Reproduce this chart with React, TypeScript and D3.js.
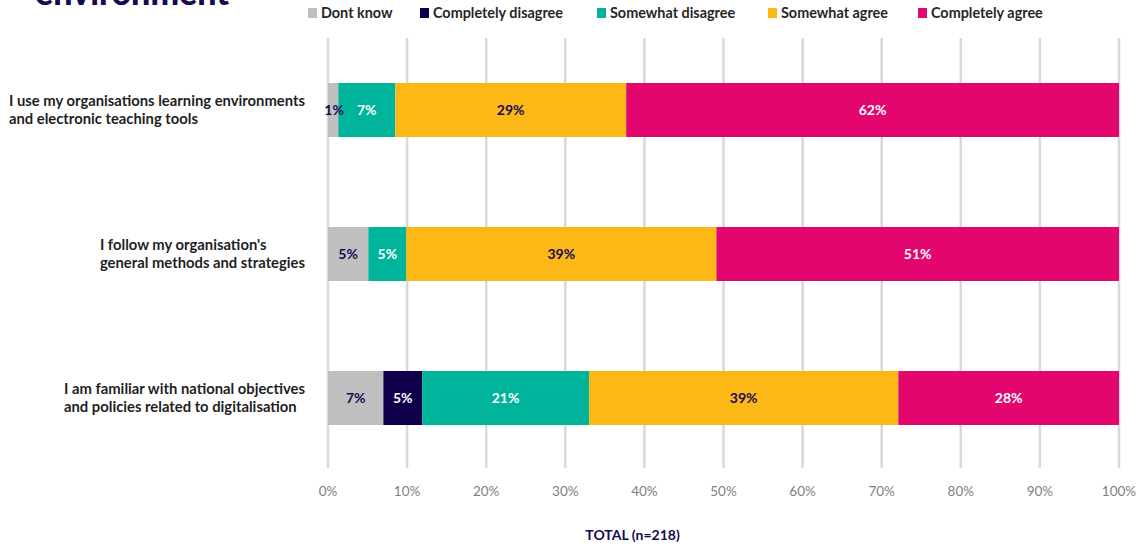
import React, { useEffect, useRef } from "react";
import * as d3 from "d3";

const categories = [
  ["I use my organisations learning environments", "and electronic teaching tools"],
  ["I follow my organisation's", "general methods and strategies"],
  ["I am familiar with national objectives", "and policies related to digitalisation"],
];
const seriesNames = ["Dont know", "Completely disagree", "Somewhat disagree", "Somewhat agree", "Completely agree"];
const seriesColors = ["#BFBFBF", "#10004B", "#00B39B", "#FBB817", "#E3066E"];
const labelColors = ["#1A0A4F", "#FFFFFF", "#FFFFFF", "#1A0A4F", "#FFFFFF"];
const dontKnow = [1.3, 5.1, 7.0];
const completelyDisagree = [0, 0, 4.9];
const somewhatDisagree = [7.2, 4.8, 21.1];
const somewhatAgree = [29.2, 39.2, 39.1];
const completelyAgree = [62.3, 50.9, 27.9];
const shownLabels = [
  ["1%", "", "7%", "29%", "62%"],
  ["5%", "", "5%", "39%", "51%"],
  ["7%", "5%", "21%", "39%", "28%"],
];
const xTicks = [0, 10, 20, 30, 40, 50, 60, 70, 80, 90, 100];
const titleText = "environment";
const axisTitle = "TOTAL (n=218)";

const W = 1143;
const H = 546;
const FONT = "Lato, 'Open Sans', sans-serif";

export default function App() {
  const ref = useRef<SVGSVGElement>(null);

  useEffect(() => {
    const svg = d3.select(ref.current);
    svg.selectAll("*").remove();

    const x = d3.scaleLinear().domain([0, 100]).range([328, 1119]);
    const y = d3
      .scaleBand<number>()
      .domain(categories.map((_, i) => i))
      .range([38, 470])
      .paddingInner(0.625)
      .paddingOuter(0.3125);

    // title (cut off)
    svg
      .append("text")
      .attr("x", 35)
      .attr("y", 5)
      .attr("font-family", FONT)
      .attr("font-weight", 900)
      .attr("font-size", 34)
      .attr("fill", "#140A50")
      .text(titleText);

    // gridlines
    svg
      .append("g")
      .selectAll("line")
      .data(xTicks)
      .join("line")
      .attr("x1", (d) => x(d))
      .attr("x2", (d) => x(d))
      .attr("y1", 38)
      .attr("y2", 468)
      .attr("stroke", "#D9D9D9")
      .attr("stroke-width", 2.5);

    // tick labels
    svg
      .append("g")
      .selectAll("text")
      .data(xTicks)
      .join("text")
      .attr("x", (d) => x(d))
      .attr("y", 496)
      .attr("text-anchor", "middle")
      .attr("font-family", FONT)
      .attr("font-size", 13.5)
      .attr("fill", "#7F7F7F")
      .text((d) => `${d}%`);

    // bars
    const series = [dontKnow, completelyDisagree, somewhatDisagree, somewhatAgree, completelyAgree];
    const rows = categories.map((_, i) => {
      let acc = 0;
      return series.map((s, k) => {
        const v = s[i];
        const seg = { row: i, k, x0: acc, x1: acc + v, v };
        acc += v;
        return seg;
      });
    });
    const segs = rows.flat().filter((d) => d.v > 0);
    svg
      .append("g")
      .selectAll("rect")
      .data(segs)
      .join("rect")
      .attr("x", (d) => x(d.x0))
      .attr("width", (d) => x(d.x1) - x(d.x0))
      .attr("y", (d) => y(d.row)!)
      .attr("height", y.bandwidth())
      .attr("fill", (d) => seriesColors[d.k]);

    svg
      .append("g")
      .selectAll("text")
      .data(segs.filter((d) => shownLabels[d.row][d.k] !== ""))
      .join("text")
      .attr("x", (d) => (x(d.x0) + x(d.x1)) / 2 + (d.v < 3 ? 1 : 0))
      .attr("y", (d) => y(d.row)! + y.bandwidth() / 2 + 5)
      .attr("text-anchor", "middle")
      .attr("font-family", FONT)
      .attr("font-weight", 700)
      .attr("font-size", 14)
      .attr("fill", (d) => labelColors[d.k])
      .text((d) => shownLabels[d.row][d.k]);

    // category labels (left-aligned block, right edge at 305)
    categories.forEach((lines, i) => {
      const g = svg.append("g");
      const cy = y(i)! + y.bandwidth() / 2;
      const texts = g
        .selectAll("text")
        .data(lines)
        .join("text")
        .attr("x", 0)
        .attr("y", (_, j) => cy + (j - (lines.length - 1) / 2) * 18 + 5)
        .attr("font-family", FONT)
        .attr("font-weight", 700)
        .attr("font-size", 14.8)
        .attr("fill", "#1F1F1F")
        .text((d) => d);
      let maxW = 0;
      texts.each(function () {
        maxW = Math.max(maxW, (this as SVGTextElement).getComputedTextLength());
      });
      g.attr("transform", `translate(${305 - maxW},0)`);
    });

    // legend
    const legendX = [308, 420, 597, 768, 918];
    const lg = svg
      .append("g")
      .selectAll("g")
      .data(seriesNames)
      .join("g")
      .attr("transform", (_, i) => `translate(${legendX[i]},0)`);
    lg.append("rect")
      .attr("x", 0)
      .attr("y", 8)
      .attr("width", 9)
      .attr("height", 10)
      .attr("fill", (_, i) => seriesColors[i]);
    lg.append("text")
      .attr("x", 13)
      .attr("y", 18)
      .attr("font-family", FONT)
      .attr("font-weight", 700)
      .attr("font-size", 14.4)
      .attr("fill", "#262626")
      .text((d) => d);

    // axis title
    svg
      .append("text")
      .attr("x", x(38.5))
      .attr("y", 540)
      .attr("text-anchor", "middle")
      .attr("font-family", FONT)
      .attr("font-weight", 700)
      .attr("font-size", 14)
      .attr("fill", "#140A50")
      .text(axisTitle);
  }, []);

  return (
    <div style={{ position: "absolute", left: 0, top: 0 }}>
      <svg ref={ref} width={W} height={H} style={{ display: "block", background: "#fff" }} />
    </div>
  );
}
